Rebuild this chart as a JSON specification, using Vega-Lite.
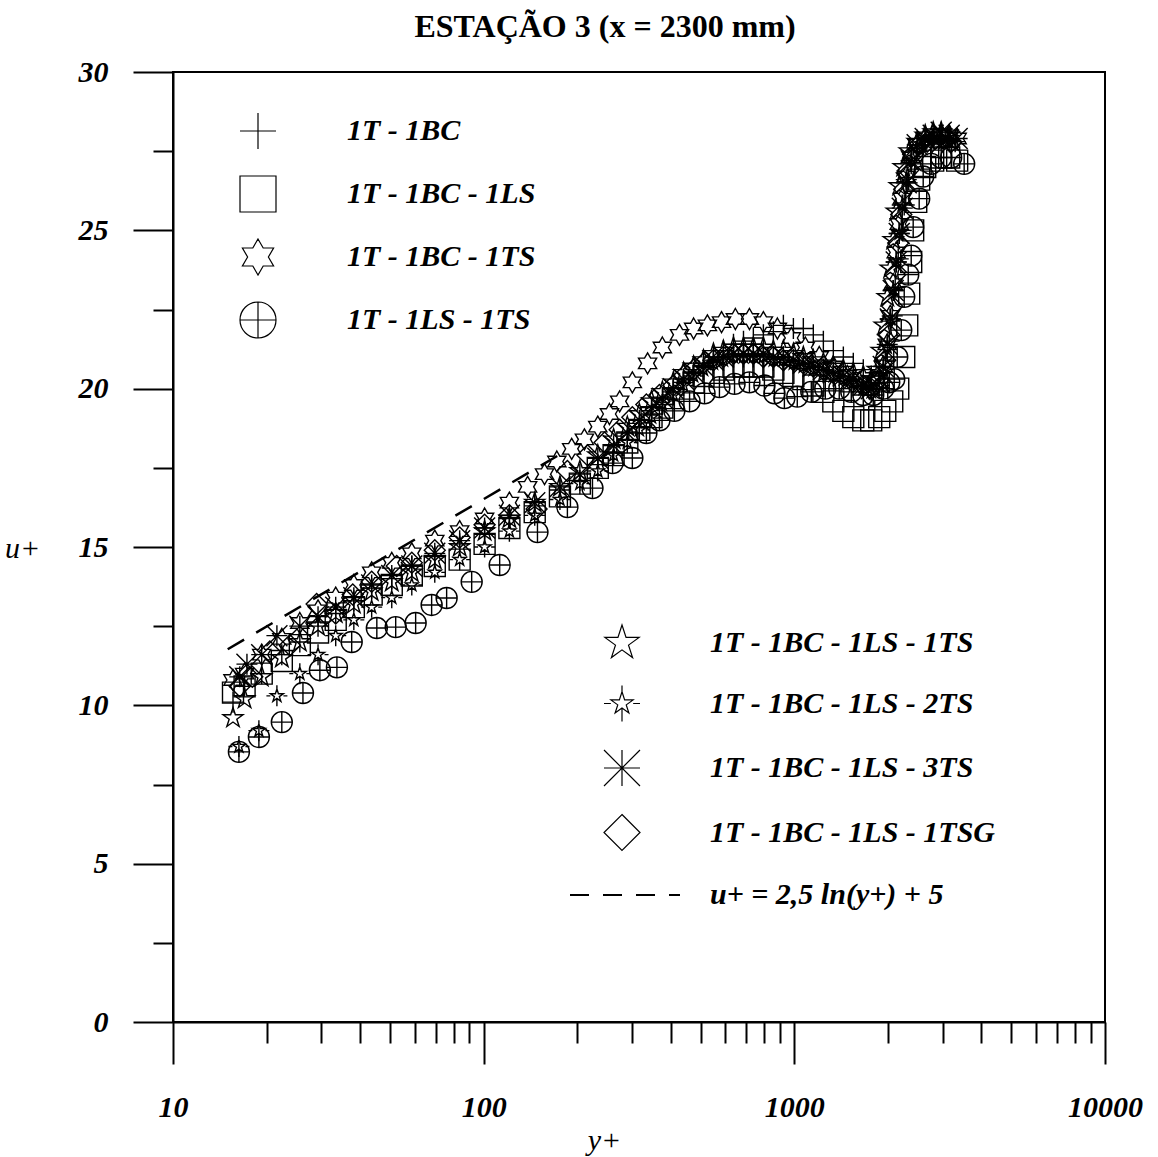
{
"$schema": "https://vega.github.io/schema/vega-lite/v6.json",
"width": 932, "height": 950,
"autosize": {"type": "none"},
"padding": {"left": 173, "top": 72, "right": 53, "bottom": 135},
"background": "white",
"title": {"text": "ESTAÇÃO 3 (x = 2300 mm)", "font": "Liberation Serif", "fontSize": 32, "fontWeight": "bold", "color": "black", "anchor": "middle", "frame": "group", "dx": -34, "dy": 44, "offset": 32, "baseline": "alphabetic"},
"config": {
 "view": {"stroke": "black", "strokeWidth": 2},
 "axis": {"domainColor": "black", "domainWidth": 2, "tickColor": "black", "tickWidth": 2, "grid": false, "labelColor": "black", "labelFont": "Liberation Serif", "labelFontSize": 30, "labelFontStyle": "italic", "labelFontWeight": "bold", "titleFont": "Liberation Serif", "titleFontSize": 30, "titleFontStyle": "italic", "titleFontWeight": "normal", "titleColor": "black"},
 "legend": {"labelFont": "Liberation Serif", "labelFontSize": 30, "labelFontStyle": "italic", "labelFontWeight": "bold", "labelColor": "black", "labelLimit": 500, "padding": 0, "symbolStrokeColor": "black", "symbolFillColor": "transparent"}
},
"data": {"values": [
{"s":"a","y":15.6,"u":10.1},{"s":"a","y":17.0,"u":10.6},{"s":"a","y":19.3,"u":11.0},{"s":"a","y":22.4,"u":11.6},{"s":"a","y":25.6,"u":12.0},{"s":"a","y":29.3,"u":12.5},{"s":"a","y":33.4,"u":12.9},{"s":"a","y":38.2,"u":13.3},{"s":"a","y":43.6,"u":13.7},{"s":"a","y":50.6,"u":14.0},{"s":"a","y":58.7,"u":14.4},{"s":"a","y":69.6,"u":14.7},{"s":"a","y":83.7,"u":15.1},{"s":"a","y":100.7,"u":15.4},{"s":"a","y":121,"u":15.9},{"s":"a","y":146,"u":16.3},{"s":"a","y":176,"u":16.8},{"s":"a","y":204,"u":17.1},{"s":"a","y":233,"u":17.6},{"s":"a","y":262,"u":18.0},{"s":"a","y":290,"u":18.4},{"s":"a","y":317,"u":18.8},{"s":"a","y":347,"u":19.2},{"s":"a","y":376,"u":19.5},{"s":"a","y":408,"u":19.9},{"s":"a","y":440,"u":20.2},{"s":"a","y":474,"u":20.5},{"s":"a","y":510,"u":20.8},{"s":"a","y":549,"u":21.0},{"s":"a","y":591,"u":21.2},{"s":"a","y":637,"u":21.4},{"s":"a","y":686,"u":21.5},{"s":"a","y":738,"u":21.6},{"s":"a","y":795,"u":21.7},{"s":"a","y":856,"u":21.8},{"s":"a","y":922,"u":22.0},{"s":"a","y":993,"u":21.9},{"s":"a","y":1069,"u":21.9},{"s":"a","y":1151,"u":21.7},{"s":"a","y":1240,"u":21.5},{"s":"a","y":1335,"u":21.2},{"s":"a","y":1438,"u":21.0},{"s":"a","y":1548,"u":20.8},{"s":"a","y":1667,"u":20.6},{"s":"a","y":1768,"u":20.4},{"s":"a","y":1876,"u":20.5},{"s":"a","y":1962,"u":20.9},{"s":"a","y":2021,"u":21.5},{"s":"a","y":2066,"u":22.3},{"s":"a","y":2112,"u":23.2},{"s":"a","y":2160,"u":24.1},{"s":"a","y":2209,"u":25.0},{"s":"a","y":2258,"u":25.8},{"s":"a","y":2309,"u":26.5},{"s":"a","y":2378,"u":27.1},{"s":"a","y":2468,"u":27.5},{"s":"a","y":2599,"u":27.7},{"s":"a","y":2757,"u":27.8},{"s":"a","y":2926,"u":27.9},{"s":"a","y":3105,"u":27.9},{"s":"a","y":3294,"u":27.8},
{"s":"b","y":15.6,"u":10.4},{"s":"b","y":17.0,"u":10.6},{"s":"b","y":19.3,"u":11.0},{"s":"b","y":22.4,"u":11.4},{"s":"b","y":25.6,"u":11.9},{"s":"b","y":29.3,"u":12.3},{"s":"b","y":33.4,"u":12.7},{"s":"b","y":38.2,"u":13.1},{"s":"b","y":43.6,"u":13.5},{"s":"b","y":50.6,"u":13.8},{"s":"b","y":58.7,"u":14.1},{"s":"b","y":69.6,"u":14.4},{"s":"b","y":83.7,"u":14.6},{"s":"b","y":100.7,"u":15.1},{"s":"b","y":121,"u":15.6},{"s":"b","y":146,"u":16.1},{"s":"b","y":176,"u":16.6},{"s":"b","y":204,"u":17.0},{"s":"b","y":233,"u":17.5},{"s":"b","y":262,"u":17.9},{"s":"b","y":290,"u":18.3},{"s":"b","y":317,"u":18.7},{"s":"b","y":347,"u":19.1},{"s":"b","y":376,"u":19.4},{"s":"b","y":408,"u":19.7},{"s":"b","y":440,"u":20.0},{"s":"b","y":474,"u":20.2},{"s":"b","y":510,"u":20.4},{"s":"b","y":549,"u":20.5},{"s":"b","y":591,"u":20.6},{"s":"b","y":637,"u":20.7},{"s":"b","y":686,"u":20.7},{"s":"b","y":738,"u":20.7},{"s":"b","y":795,"u":20.7},{"s":"b","y":856,"u":20.6},{"s":"b","y":922,"u":20.5},{"s":"b","y":993,"u":20.4},{"s":"b","y":1069,"u":20.3},{"s":"b","y":1151,"u":20.1},{"s":"b","y":1240,"u":19.9},{"s":"b","y":1335,"u":19.6},{"s":"b","y":1438,"u":19.3},{"s":"b","y":1548,"u":19.1},{"s":"b","y":1667,"u":19.0},{"s":"b","y":1768,"u":19.0},{"s":"b","y":1876,"u":19.1},{"s":"b","y":1962,"u":19.3},{"s":"b","y":2066,"u":19.6},{"s":"b","y":2160,"u":20.0},{"s":"b","y":2258,"u":21.0},{"s":"b","y":2309,"u":22.0},{"s":"b","y":2343,"u":23.0},{"s":"b","y":2378,"u":24.0},{"s":"b","y":2413,"u":25.0},{"s":"b","y":2468,"u":25.9},{"s":"b","y":2523,"u":26.6},{"s":"b","y":2638,"u":27.0},{"s":"b","y":2799,"u":27.2},{"s":"b","y":2970,"u":27.3},{"s":"b","y":3151,"u":27.3},{"s":"b","y":3343,"u":27.2},
{"s":"c","y":15.6,"u":10.8},{"s":"c","y":17.0,"u":11.0},{"s":"c","y":19.3,"u":11.6},{"s":"c","y":22.4,"u":12.1},{"s":"c","y":25.6,"u":12.6},{"s":"c","y":29.3,"u":13.0},{"s":"c","y":33.4,"u":13.4},{"s":"c","y":38.2,"u":13.8},{"s":"c","y":43.6,"u":14.2},{"s":"c","y":50.6,"u":14.5},{"s":"c","y":58.7,"u":14.8},{"s":"c","y":69.6,"u":15.2},{"s":"c","y":83.7,"u":15.5},{"s":"c","y":100.7,"u":15.9},{"s":"c","y":121,"u":16.4},{"s":"c","y":138.5,"u":16.9},{"s":"c","y":157,"u":17.3},{"s":"c","y":172,"u":17.7},{"s":"c","y":192,"u":18.1},{"s":"c","y":211,"u":18.4},{"s":"c","y":233,"u":18.8},{"s":"c","y":254,"u":19.2},{"s":"c","y":274,"u":19.6},{"s":"c","y":301,"u":20.2},{"s":"c","y":337,"u":20.8},{"s":"c","y":376,"u":21.3},{"s":"c","y":427,"u":21.7},{"s":"c","y":474,"u":21.9},{"s":"c","y":525,"u":22.0},{"s":"c","y":583,"u":22.1},{"s":"c","y":646,"u":22.2},{"s":"c","y":717,"u":22.2},{"s":"c","y":795,"u":22.1},{"s":"c","y":882,"u":21.9},{"s":"c","y":978,"u":21.6},{"s":"c","y":1085,"u":21.3},{"s":"c","y":1203,"u":21.0},{"s":"c","y":1335,"u":20.7},{"s":"c","y":1481,"u":20.4},{"s":"c","y":1618,"u":20.2},{"s":"c","y":1743,"u":20.0},{"s":"c","y":1849,"u":20.2},{"s":"c","y":1933,"u":20.7},{"s":"c","y":1991,"u":21.4},{"s":"c","y":2036,"u":22.3},{"s":"c","y":2081,"u":23.3},{"s":"c","y":2128,"u":24.3},{"s":"c","y":2176,"u":25.2},{"s":"c","y":2225,"u":26.0},{"s":"c","y":2292,"u":26.7},{"s":"c","y":2378,"u":27.3},{"s":"c","y":2486,"u":27.7},{"s":"c","y":2638,"u":27.9},{"s":"c","y":2799,"u":28.0},{"s":"c","y":2970,"u":28.0},{"s":"c","y":3151,"u":28.0},{"s":"c","y":3343,"u":27.9},
{"s":"d","y":16.3,"u":8.53},{"s":"d","y":18.9,"u":9.0},{"s":"d","y":22.4,"u":9.47},{"s":"d","y":26.2,"u":10.39},{"s":"d","y":29.7,"u":11.11},{"s":"d","y":33.7,"u":11.2},{"s":"d","y":37.6,"u":12.0},{"s":"d","y":45.3,"u":12.44},{"s":"d","y":52.1,"u":12.47},{"s":"d","y":60.4,"u":12.6},{"s":"d","y":68.0,"u":13.17},{"s":"d","y":76.0,"u":13.39},{"s":"d","y":91.5,"u":13.9},{"s":"d","y":112.6,"u":14.43},{"s":"d","y":149,"u":15.47},{"s":"d","y":186,"u":16.26},{"s":"d","y":224,"u":16.86},{"s":"d","y":260,"u":17.65},{"s":"d","y":301,"u":17.81},{"s":"d","y":334,"u":18.6},{"s":"d","y":368,"u":19.0},{"s":"d","y":411,"u":19.3},{"s":"d","y":460,"u":19.6},{"s":"d","y":514,"u":19.85},{"s":"d","y":574,"u":20.05},{"s":"d","y":642,"u":20.15},{"s":"d","y":717,"u":20.2},{"s":"d","y":801,"u":20.1},{"s":"d","y":863,"u":19.85},{"s":"d","y":929,"u":19.7},{"s":"d","y":1022,"u":19.75},{"s":"d","y":1134,"u":19.9},{"s":"d","y":1258,"u":20.0},{"s":"d","y":1395,"u":20.0},{"s":"d","y":1525,"u":19.9},{"s":"d","y":1667,"u":19.8},{"s":"d","y":1795,"u":19.8},{"s":"d","y":1933,"u":20.0},{"s":"d","y":2021,"u":20.2},{"s":"d","y":2097,"u":20.3},{"s":"d","y":2144,"u":21.0},{"s":"d","y":2209,"u":21.85},{"s":"d","y":2258,"u":22.9},{"s":"d","y":2326,"u":23.6},{"s":"d","y":2378,"u":24.2},{"s":"d","y":2413,"u":25.1},{"s":"d","y":2523,"u":26.0},{"s":"d","y":2599,"u":26.7},{"s":"d","y":2757,"u":27.1},{"s":"d","y":2970,"u":27.3},{"s":"d","y":3198,"u":27.3},{"s":"d","y":3521,"u":27.1},
{"s":"e","y":15.6,"u":9.6},{"s":"e","y":17.0,"u":10.2},{"s":"e","y":19.3,"u":10.9},{"s":"e","y":22.4,"u":11.5},{"s":"e","y":25.6,"u":12.0},{"s":"e","y":29.3,"u":12.5},{"s":"e","y":33.4,"u":12.9},{"s":"e","y":38.2,"u":13.2},{"s":"e","y":43.6,"u":13.6},{"s":"e","y":50.6,"u":13.9},{"s":"e","y":58.7,"u":14.2},{"s":"e","y":69.6,"u":14.6},{"s":"e","y":83.7,"u":15.0},{"s":"e","y":100.7,"u":15.5},{"s":"e","y":121,"u":15.9},{"s":"e","y":146,"u":16.4},{"s":"e","y":176,"u":16.9},{"s":"e","y":204,"u":17.4},{"s":"e","y":233,"u":17.9},{"s":"e","y":262,"u":18.4},{"s":"e","y":290,"u":18.8},{"s":"e","y":317,"u":19.2},{"s":"e","y":347,"u":19.6},{"s":"e","y":376,"u":19.9},{"s":"e","y":408,"u":20.2},{"s":"e","y":440,"u":20.5},{"s":"e","y":474,"u":20.7},{"s":"e","y":510,"u":20.9},{"s":"e","y":549,"u":21.1},{"s":"e","y":591,"u":21.2},{"s":"e","y":637,"u":21.3},{"s":"e","y":686,"u":21.3},{"s":"e","y":738,"u":21.3},{"s":"e","y":795,"u":21.3},{"s":"e","y":856,"u":21.2},{"s":"e","y":922,"u":21.2},{"s":"e","y":993,"u":21.1},{"s":"e","y":1069,"u":21.0},{"s":"e","y":1151,"u":20.9},{"s":"e","y":1240,"u":20.8},{"s":"e","y":1335,"u":20.7},{"s":"e","y":1438,"u":20.6},{"s":"e","y":1548,"u":20.5},{"s":"e","y":1667,"u":20.4},{"s":"e","y":1768,"u":20.3},{"s":"e","y":1849,"u":20.6},{"s":"e","y":1904,"u":21.2},{"s":"e","y":1947,"u":22.0},{"s":"e","y":1991,"u":22.9},{"s":"e","y":2036,"u":23.8},{"s":"e","y":2081,"u":24.7},{"s":"e","y":2128,"u":25.6},{"s":"e","y":2176,"u":26.4},{"s":"e","y":2241,"u":27.0},{"s":"e","y":2343,"u":27.5},{"s":"e","y":2486,"u":27.8},{"s":"e","y":2638,"u":28.0},{"s":"e","y":2799,"u":28.1},{"s":"e","y":2970,"u":28.1},{"s":"e","y":3151,"u":28.0},
{"s":"f","y":16.3,"u":8.7},{"s":"f","y":18.9,"u":9.2},{"s":"f","y":21.6,"u":10.3},{"s":"f","y":25.6,"u":11.0},{"s":"f","y":29.3,"u":11.6},{"s":"f","y":33.4,"u":12.2},{"s":"f","y":38.2,"u":12.7},{"s":"f","y":43.6,"u":13.1},{"s":"f","y":50.6,"u":13.4},{"s":"f","y":58.7,"u":13.8},{"s":"f","y":69.6,"u":14.2},{"s":"f","y":83.7,"u":14.6},{"s":"f","y":100.7,"u":15.0},{"s":"f","y":121,"u":15.5},{"s":"f","y":146,"u":16.0},{"s":"f","y":176,"u":16.5},{"s":"f","y":204,"u":17.0},{"s":"f","y":233,"u":17.4},{"s":"f","y":262,"u":17.9},{"s":"f","y":290,"u":18.3},{"s":"f","y":317,"u":18.7},{"s":"f","y":347,"u":19.1},{"s":"f","y":376,"u":19.5},{"s":"f","y":408,"u":19.8},{"s":"f","y":440,"u":20.1},{"s":"f","y":474,"u":20.4},{"s":"f","y":510,"u":20.6},{"s":"f","y":549,"u":20.8},{"s":"f","y":591,"u":20.9},{"s":"f","y":637,"u":21.0},{"s":"f","y":686,"u":21.0},{"s":"f","y":738,"u":21.0},{"s":"f","y":795,"u":21.0},{"s":"f","y":856,"u":20.9},{"s":"f","y":922,"u":20.9},{"s":"f","y":993,"u":20.8},{"s":"f","y":1069,"u":20.7},{"s":"f","y":1151,"u":20.6},{"s":"f","y":1240,"u":20.5},{"s":"f","y":1335,"u":20.4},{"s":"f","y":1438,"u":20.3},{"s":"f","y":1548,"u":20.2},{"s":"f","y":1667,"u":20.0},{"s":"f","y":1768,"u":19.9},{"s":"f","y":1876,"u":20.1},{"s":"f","y":1933,"u":20.6},{"s":"f","y":1991,"u":21.3},{"s":"f","y":2036,"u":22.2},{"s":"f","y":2081,"u":23.1},{"s":"f","y":2128,"u":24.0},{"s":"f","y":2176,"u":24.9},{"s":"f","y":2225,"u":25.8},{"s":"f","y":2292,"u":26.6},{"s":"f","y":2378,"u":27.2},{"s":"f","y":2486,"u":27.6},{"s":"f","y":2638,"u":27.8},{"s":"f","y":2799,"u":27.9},{"s":"f","y":2970,"u":27.9},{"s":"f","y":3151,"u":27.8},
{"s":"g","y":16.4,"u":10.9},{"s":"g","y":17.3,"u":11.3},{"s":"g","y":19.3,"u":11.6},{"s":"g","y":21.6,"u":12.2},{"s":"g","y":25.6,"u":12.5},{"s":"g","y":29.3,"u":12.8},{"s":"g","y":33.4,"u":13.1},{"s":"g","y":38.2,"u":13.4},{"s":"g","y":43.6,"u":13.8},{"s":"g","y":50.6,"u":14.1},{"s":"g","y":58.7,"u":14.4},{"s":"g","y":69.6,"u":14.8},{"s":"g","y":83.7,"u":15.2},{"s":"g","y":100.7,"u":15.6},{"s":"g","y":121,"u":16.0},{"s":"g","y":146,"u":16.4},{"s":"g","y":176,"u":16.9},{"s":"g","y":204,"u":17.3},{"s":"g","y":233,"u":17.8},{"s":"g","y":262,"u":18.2},{"s":"g","y":290,"u":18.6},{"s":"g","y":317,"u":19.0},{"s":"g","y":347,"u":19.4},{"s":"g","y":376,"u":19.7},{"s":"g","y":408,"u":20.0},{"s":"g","y":440,"u":20.3},{"s":"g","y":474,"u":20.5},{"s":"g","y":510,"u":20.7},{"s":"g","y":549,"u":20.9},{"s":"g","y":591,"u":21.0},{"s":"g","y":637,"u":21.1},{"s":"g","y":686,"u":21.1},{"s":"g","y":738,"u":21.1},{"s":"g","y":795,"u":21.1},{"s":"g","y":856,"u":21.0},{"s":"g","y":922,"u":21.0},{"s":"g","y":993,"u":20.9},{"s":"g","y":1069,"u":20.8},{"s":"g","y":1151,"u":20.7},{"s":"g","y":1240,"u":20.6},{"s":"g","y":1335,"u":20.5},{"s":"g","y":1438,"u":20.4},{"s":"g","y":1548,"u":20.3},{"s":"g","y":1667,"u":20.1},{"s":"g","y":1768,"u":20.0},{"s":"g","y":1876,"u":20.2},{"s":"g","y":1933,"u":20.7},{"s":"g","y":1991,"u":21.4},{"s":"g","y":2036,"u":22.2},{"s":"g","y":2081,"u":23.1},{"s":"g","y":2128,"u":24.0},{"s":"g","y":2176,"u":24.9},{"s":"g","y":2225,"u":25.7},{"s":"g","y":2292,"u":26.5},{"s":"g","y":2378,"u":27.2},{"s":"g","y":2486,"u":27.7},{"s":"g","y":2638,"u":27.9},{"s":"g","y":2799,"u":28.0},{"s":"g","y":2970,"u":28.1},{"s":"g","y":3151,"u":28.0},{"s":"g","y":3343,"u":27.9},
{"s":"h","y":16.4,"u":10.6},{"s":"h","y":18.0,"u":10.9},{"s":"h","y":20.5,"u":11.7},{"s":"h","y":23.8,"u":11.9},{"s":"h","y":29.0,"u":13.2},{"s":"h","y":33.4,"u":12.9},{"s":"h","y":37.9,"u":13.5},{"s":"h","y":43.6,"u":13.9},{"s":"h","y":52.5,"u":14.4},{"s":"h","y":58.7,"u":14.5},{"s":"h","y":69.6,"u":14.9},{"s":"h","y":83.7,"u":15.3},{"s":"h","y":100.7,"u":15.7},{"s":"h","y":121,"u":16.0},{"s":"h","y":148,"u":16.2},{"s":"h","y":186,"u":17.4},{"s":"h","y":216,"u":17.9},{"s":"h","y":245,"u":18.3},{"s":"h","y":274,"u":18.7},{"s":"h","y":301,"u":19.1},{"s":"h","y":334,"u":19.5},{"s":"h","y":368,"u":19.8},{"s":"h","y":408,"u":20.1},{"s":"h","y":440,"u":20.4},{"s":"h","y":474,"u":20.6},{"s":"h","y":510,"u":20.8},{"s":"h","y":549,"u":20.9},{"s":"h","y":591,"u":21.0},{"s":"h","y":637,"u":21.1},{"s":"h","y":686,"u":21.1},{"s":"h","y":738,"u":21.1},{"s":"h","y":795,"u":21.0},{"s":"h","y":856,"u":21.0},{"s":"h","y":922,"u":20.9},{"s":"h","y":993,"u":20.9},{"s":"h","y":1069,"u":20.8},{"s":"h","y":1151,"u":20.7},{"s":"h","y":1240,"u":20.6},{"s":"h","y":1335,"u":20.5},{"s":"h","y":1438,"u":20.4},{"s":"h","y":1548,"u":20.2},{"s":"h","y":1667,"u":20.1},{"s":"h","y":1768,"u":20.0},{"s":"h","y":1876,"u":20.3},{"s":"h","y":1962,"u":20.9},{"s":"h","y":2021,"u":21.7},{"s":"h","y":2066,"u":22.6},{"s":"h","y":2112,"u":23.6},{"s":"h","y":2160,"u":24.6},{"s":"h","y":2209,"u":25.5},{"s":"h","y":2258,"u":26.3},{"s":"h","y":2326,"u":26.9},{"s":"h","y":2413,"u":27.4},{"s":"h","y":2523,"u":27.7},{"s":"h","y":2677,"u":27.8},{"s":"h","y":2840,"u":27.9},{"s":"h","y":3014,"u":27.9},{"s":"h","y":3198,"u":27.8}
]},
"encoding": {
 "x": {"field": "y", "type": "quantitative", "scale": {"type": "log", "domain": [10, 10000], "nice": false},
  "axis": {"values": [10,20,30,40,50,60,70,80,90,100,200,300,400,500,600,700,800,900,1000,2000,3000,4000,5000,6000,7000,8000,9000,10000],
   "format": "d", "labelExpr": "indexof([10,100,1000,10000], datum.value) >= 0 ? datum.label : ''",
   "tickSize": {"condition": {"test": "indexof([10,100,1000,10000], datum.value) >= 0", "value": 42}, "value": 21},
   "labelPadding": 28, "labelFlush": false, "labelOverlap": false,
   "title": "y+", "titleAngle": 0, "titleX": 431, "titleY": 118, "titleAlign": "center", "titleBaseline": "middle"}},
 "y": {"field": "u", "type": "quantitative", "scale": {"domain": [0, 30], "nice": false, "zero": false},
  "axis": {"values": [0,2.5,5,7.5,10,12.5,15,17.5,20,22.5,25,27.5,30],
   "format": "d", "labelExpr": "datum.value % 5 == 0 ? datum.label : ''",
   "tickSize": {"condition": {"test": "datum.value % 5 == 0", "value": 40}, "value": 20},
   "labelPadding": 25, "labelFlush": false, "labelOverlap": false,
   "title": "u+", "titleAngle": 0, "titleX": -151, "titleY": 476, "titleAlign": "center", "titleBaseline": "middle"}}
},
"layer": [
 {"data": {"values": [{"k": "u+ = 2,5 ln(y+) + 5", "y": 15, "u": 11.77}, {"k": "u+ = 2,5 ln(y+) + 5", "y": 185, "u": 18.05}]},
  "mark": {"type": "line", "color": "black", "strokeWidth": 2.5},
  "encoding": {"strokeDash": {"field": "k", "type": "nominal", "scale": {"range": [[19, 14]]},
   "legend": {"title": null, "orient": "none", "legendX": 396, "legendY": 767, "symbolType": "stroke", "symbolSize": 12100, "symbolStrokeWidth": 2, "symbolDash": [23, 18], "labelOffset": 29}}}},
 {"transform": [{"filter": {"field": "s", "oneOf": ["a","b","c","d"]}}],
  "mark": {"type": "point", "filled": false, "color": "black", "strokeWidth": 1.4, "size": 441, "opacity": 1},
  "encoding": {"shape": {"field": "s", "type": "nominal",
   "scale": {"domain": ["a","b","c","d"], "range": ["M-1,0L1,0M0,-1L0,1", "M-1,-1L1,-1L1,1L-1,1Z", "M0,-1L0.289,-0.5L0.866,-0.5L0.577,0L0.866,0.5L0.289,0.5L0,1L-0.289,0.5L-0.866,0.5L-0.577,0L-0.866,-0.5L-0.289,-0.5Z", "M-1,0A1,1,0,1,0,1,0A1,1,0,1,0,-1,0ZM-1,0L1,0M0,-1L0,1"]},
   "legend": {"title": null, "orient": "none", "legendX": 66, "legendY": 40, "symbolSize": 1296, "symbolStrokeWidth": 1.2, "labelOffset": 70, "rowPadding": 21,
    "labelExpr": "datum.label == 'a' ? '1T - 1BC' : datum.label == 'b' ? '1T - 1BC - 1LS' : datum.label == 'c' ? '1T - 1BC - 1TS' : '1T - 1LS - 1TS'"}}}},
 {"transform": [{"filter": {"field": "s", "oneOf": ["e","f","g","h"]}}],
  "mark": {"type": "point", "filled": false, "color": "black", "strokeWidth": 1.4, "size": 441, "opacity": 1},
  "encoding": {"shape": {"field": "s", "type": "nominal",
   "scale": {"domain": ["e","f","g","h"], "range": ["M0,-1L0.225,-0.309L0.951,-0.309L0.363,0.118L0.588,0.809L0,0.382L-0.588,0.809L-0.363,0.118L-0.951,-0.309L-0.225,-0.309Z", "M0,-0.65L0.146,-0.2L0.618,-0.2L0.236,0.077L0.382,0.526L0,0.248L-0.382,0.526L-0.236,0.077L-0.618,-0.2L-0.146,-0.2ZM0,-1L0,-0.65M0,0.248L0,1M-1,0L-0.62,0M0.62,0L1,0", "M-1,0L1,0M0,-1L0,1M-1,-1L1,1M-1,1L1,-1", "M0,-1L1,0L0,1L-1,0Z"]},
   "legend": {"title": null, "orient": "none", "legendX": 430, "legendY": 552, "symbolSize": 1296, "symbolStrokeWidth": 1.2, "labelOffset": 69, "rowPadding": 22.5,
    "labelExpr": "datum.label == 'e' ? '1T - 1BC - 1LS - 1TS' : datum.label == 'f' ? '1T - 1BC - 1LS - 2TS' : datum.label == 'g' ? '1T - 1BC - 1LS - 3TS' : '1T - 1BC - 1LS - 1TSG'"}}}}
],
"resolve": {"scale": {"shape": "independent"}, "legend": {"shape": "independent"}}
}
